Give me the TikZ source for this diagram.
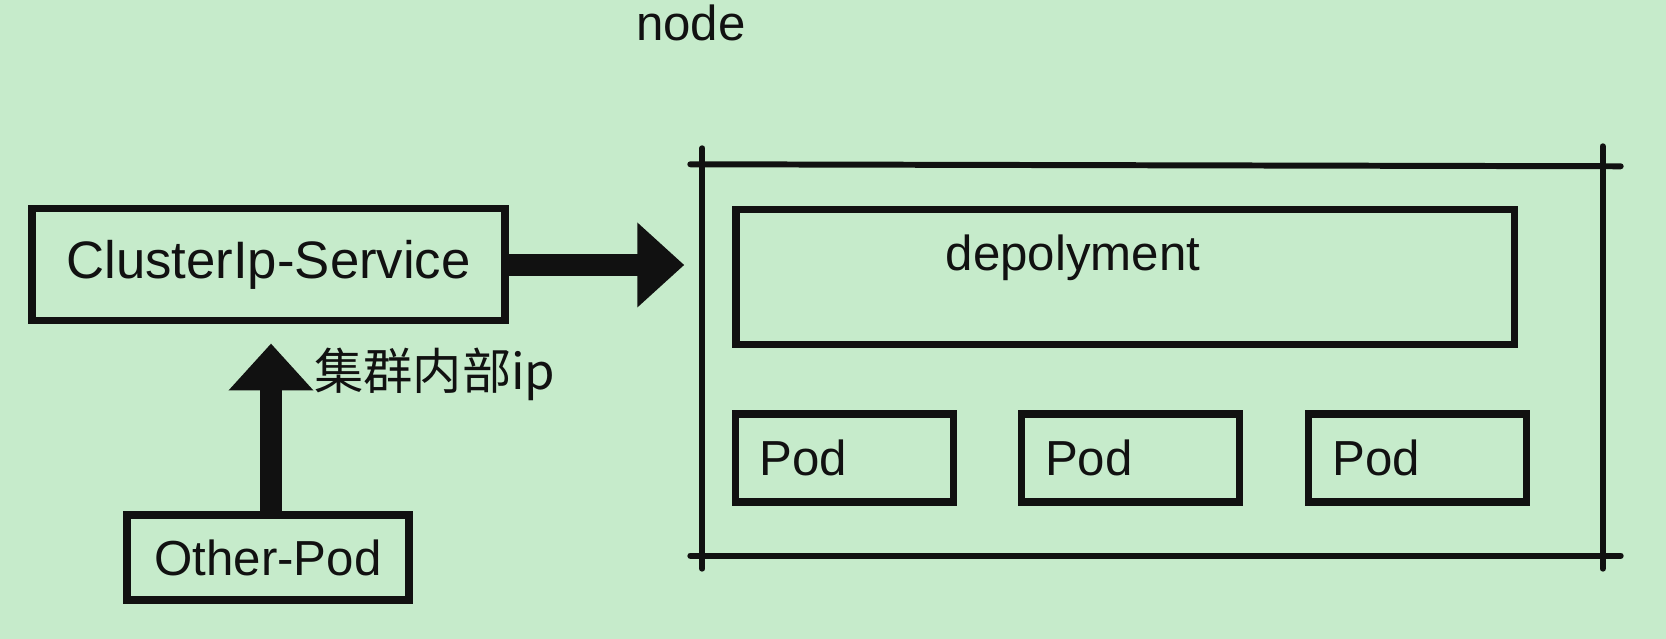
\documentclass[tikz,border=0pt]{standalone}
\usepackage{fontspec}
\setmainfont{Liberation Sans}
\newfontfamily\cjk{Noto Sans CJK SC}
\usepackage{tikz}
\usetikzlibrary{positioning, arrows.meta, calc}
\definecolor{k8sBg}{HTML}{C6EBCB}
\definecolor{k8sInk}{HTML}{111111}

\begin{document}
\begin{tikzpicture}[
  every node/.style={font=\fontsize{14}{17}\selectfont, text=k8sInk},
  box/.style={
    rectangle, draw=k8sInk, line width=2pt,
    minimum width=#1, inner sep=0pt
  },
  podbox/.style={
    rectangle, draw=k8sInk, line width=2pt,
    minimum height=0.88cm, inner xsep=0.24cm,
    text width=1.70cm, align=left
  },
  frame/.style={draw=k8sInk, line width=1.7pt, line cap=round},
  fatarrow/.style={
    draw=k8sInk, line width=6pt,
    -{Triangle[length=0.47cm, width=0.82cm]}
  },
]

% background and bounds
\fill[k8sBg] (0,0) rectangle (16.66,6.39);
\useasboundingbox (0,0) rectangle (16.66,6.39);

\node (title) at (6.91,6.16) {node};

% === SERVICE SIDE ===
\node[box=4.73cm, minimum height=1.12cm, font=\fontsize{15}{18}\selectfont] (csvc) at (2.685,3.74) {ClusterIp-Service};
\node[box=2.82cm, minimum height=0.85cm] (other) at (2.68,0.815) {Other-Pod};

\draw[fatarrow, shorten >=0.19cm] ([xshift=0.03cm]other.north) -- ([xshift=0.03cm]other.north |- csvc.south);
\node[font=\cjk\fontsize{14}{17}\selectfont] (iplabel) at (4.35,2.65) {集群内部ip};

% === NODE FRAME ===
\node[minimum width=8.99cm, minimum height=3.90cm, inner sep=0pt] (nodebox) at (11.525,2.79) {};
\draw[frame] ([xshift=-0.12cm]nodebox.north west) -- ([xshift=0.18cm, yshift=-0.02cm]nodebox.north east);
\draw[frame] ([xshift=-0.12cm]nodebox.south west) -- ([xshift=0.18cm]nodebox.south east);
\draw[frame] ([yshift=0.16cm]nodebox.north west) -- ([yshift=-0.13cm]nodebox.south west);
\draw[frame] ([yshift=0.18cm]nodebox.north east) -- ([yshift=-0.13cm]nodebox.south east);

\draw[fatarrow, shorten >=0.18cm] (csvc.east) -- (csvc.east -| nodebox.west);

% deployment and pods
\node[box=7.78cm, minimum height=1.35cm] (dep) at (11.25,3.615) {};
\node (deptext) at ($(dep.center)+(-0.52,0.20)$) {depolyment};

\node[podbox] (pod1) at (8.445,1.81) {Pod};
\node[podbox] (pod2) at (11.30,1.81) {Pod};
\node[podbox] (pod3) at (14.175,1.81) {Pod};

\end{tikzpicture}
\end{document}
